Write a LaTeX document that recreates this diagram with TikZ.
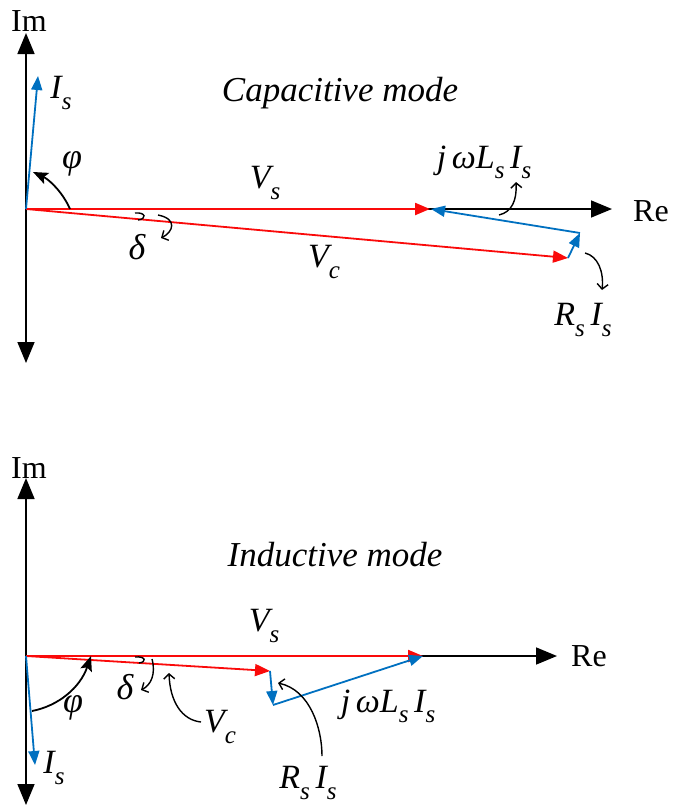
\documentclass[tikz,border=0pt]{standalone}
\usepackage{fontspec}
\setmainfont{Liberation Serif}
\usetikzlibrary{arrows.meta}
\definecolor{vred}{RGB}{250,10,10}
\definecolor{iblue}{RGB}{0,112,192}
\newcommand\lsub[1]{\raisebox{-0.3em}{\fontsize{25}{25}\selectfont\itshape #1}}
\begin{document}
\begin{tikzpicture}[x=1pt,y=-1pt,
  axis/.style={line width=1.6pt,{Triangle[length=21pt,width=17pt]}-{Triangle[length=21pt,width=17pt]}},
  reaxis/.style={line width=1.6pt,-{Triangle[length=21pt,width=17pt]}},
  redvec/.style={vred,line width=2.2pt,-{Triangle[length=15pt,width=12pt]}},
  bluevec/.style={iblue,line width=1.8pt,-{Triangle[length=14pt,width=11pt]}},
  angarrow/.style={black,line width=1.8pt,-{Stealth[length=15pt,width=12pt,inset=3pt]}},
  pointer/.style={black,line width=1.4pt,-{Straight Barb[length=5pt,width=11pt]}},
  hook/.style={black,line width=1.4pt},
  lbl/.style={inner sep=0pt,font=\fontsize{34}{34}\selectfont\itshape},
  greek/.style={inner sep=0pt,font=\fontsize{36}{36}\selectfont\itshape},
  axlbl/.style={inner sep=0pt,font=\fontsize{32}{32}\selectfont},
  title/.style={inner sep=0pt,font=\fontsize{35}{35}\selectfont\itshape}]
\useasboundingbox (0,0) rectangle (673,806);

% ---------------- Capacitive mode ----------------
\coordinate (O1) at (26,209);
\coordinate (ImT1) at (26,33);
\coordinate (ImB1) at (26,363);
\coordinate (Re1) at (612,209);
\coordinate (Vs1) at (430,209);
\coordinate (Vc1) at (568,258);
\coordinate (P1) at (580,233);
\coordinate (Is1) at (38,76);

\draw[axis] (ImB1) -- (ImT1);
\draw[reaxis] (O1) -- (Re1);
\draw[redvec] (O1) -- (Vs1);
\draw[redvec,line width=1.8pt] (O1) -- (Vc1);
\draw[bluevec] (Vc1) -- (P1);
\draw[bluevec] (P1) -- ([xshift=1pt]Vs1);
\draw[bluevec] (O1) -- (Is1);

\node[axlbl] (im1) at (29,21) {Im};
\node[axlbl] (re1) at (651,211) {Re};
\node[title] (cap) at (340,93) {Capacitive mode};
\node[lbl] (is1) at (61,93) {I\lsub{s}};
\node[greek] (phi1) at (72,164) {φ};
\node[greek] (del1) at (137,247) {δ};
\node[lbl] (vs1) at (265,183) {V\lsub{s}};
\node[lbl] (vc1) at (324,262) {V\lsub{c}};
\node[lbl] (jw1) at (484,162) {j\,ωL\lsub{s}\,I\lsub{s}};
\node[lbl] (rs1) at (583,320) {R\lsub{s}\,I\lsub{s}};

\coordinate (phiA1) at (70,209);
\coordinate (phiB1) at (33,172);
\draw[angarrow] (phiA1) .. controls (63,193) and (50,180) .. (phiB1);
\coordinate (dh1a) at (135,213);
\coordinate (dh1b) at (138,220);
\draw[hook] (dh1a) .. controls (146,212) and (147,219) .. (dh1b);
\coordinate (da1) at (158,215);
\coordinate (db1) at (161,238);
\draw[pointer] (da1) .. controls (178,219) and (173,232) .. (db1);
\coordinate (ja1) at (499,215);
\coordinate (jb1) at (516,182);
\draw[pointer] (ja1) .. controls (512,212) and (517,200) .. (jb1);
\coordinate (ra1) at (585,253);
\coordinate (rb1) at (602,290);
\draw[pointer] (ra1) .. controls (598,256) and (604,272) .. (rb1);

% ---------------- Inductive mode ----------------
\coordinate (O2) at (26,656);
\coordinate (ImT2) at (26,478);
\coordinate (ImB2) at (26,805);
\coordinate (Re2) at (557,656);
\coordinate (Vs2) at (423,656);
\coordinate (Vc2) at (270,671);
\coordinate (P2) at (273,705);
\coordinate (Is2) at (35,765);

\draw[axis] (ImB2) -- (ImT2);
\draw[reaxis] (O2) -- (Re2);
\draw[redvec] (O2) -- (Vs2);
\draw[redvec,line width=1.8pt] (O2) -- (Vc2);
\draw[bluevec] (Vc2) -- (P2);
\draw[bluevec] (P2) -- (Vs2);
\draw[bluevec] (O2) -- (Is2);

\node[axlbl] (im2) at (29,468) {Im};
\node[axlbl] (re2) at (589,656) {Re};
\node[title] (ind) at (335,555) {Inductive mode};
\node[lbl] (is2) at (54,768) {I\lsub{s}};
\node[greek] (phi2) at (73,708) {φ};
\node[greek] (del2) at (125,687) {δ};
\node[lbl] (vs2) at (264,626) {V\lsub{s}};
\node[lbl] (vc2) at (220,727) {V\lsub{c}};
\node[lbl] (jw2) at (388,706) {j\,ωL\lsub{s}\,I\lsub{s}};
\node[lbl] (rs2) at (308,783) {R\lsub{s}\,I\lsub{s}};

\coordinate (phiA2) at (32,711);
\coordinate (phiB2) at (91,656);
\draw[angarrow] (phiA2) .. controls (58,706) and (80,688) .. (phiB2);
\coordinate (dh2a) at (135,657);
\coordinate (dh2b) at (139,663);
\draw[hook] (dh2a) .. controls (146,656) and (147,662) .. (dh2b);
\coordinate (da2) at (152,659);
\coordinate (db2) at (141,690);
\draw[pointer] (da2) .. controls (156,674) and (151,685) .. (db2);
\coordinate (va2) at (201,722);
\coordinate (vb2) at (169,673);
\draw[pointer] (va2) .. controls (182,720) and (170,702) .. (vb2);
\coordinate (ra2) at (322,756);
\coordinate (rb2) at (278,683);
\draw[pointer] (ra2) .. controls (322,728) and (310,690) .. (rb2);
\end{tikzpicture}
\end{document}
